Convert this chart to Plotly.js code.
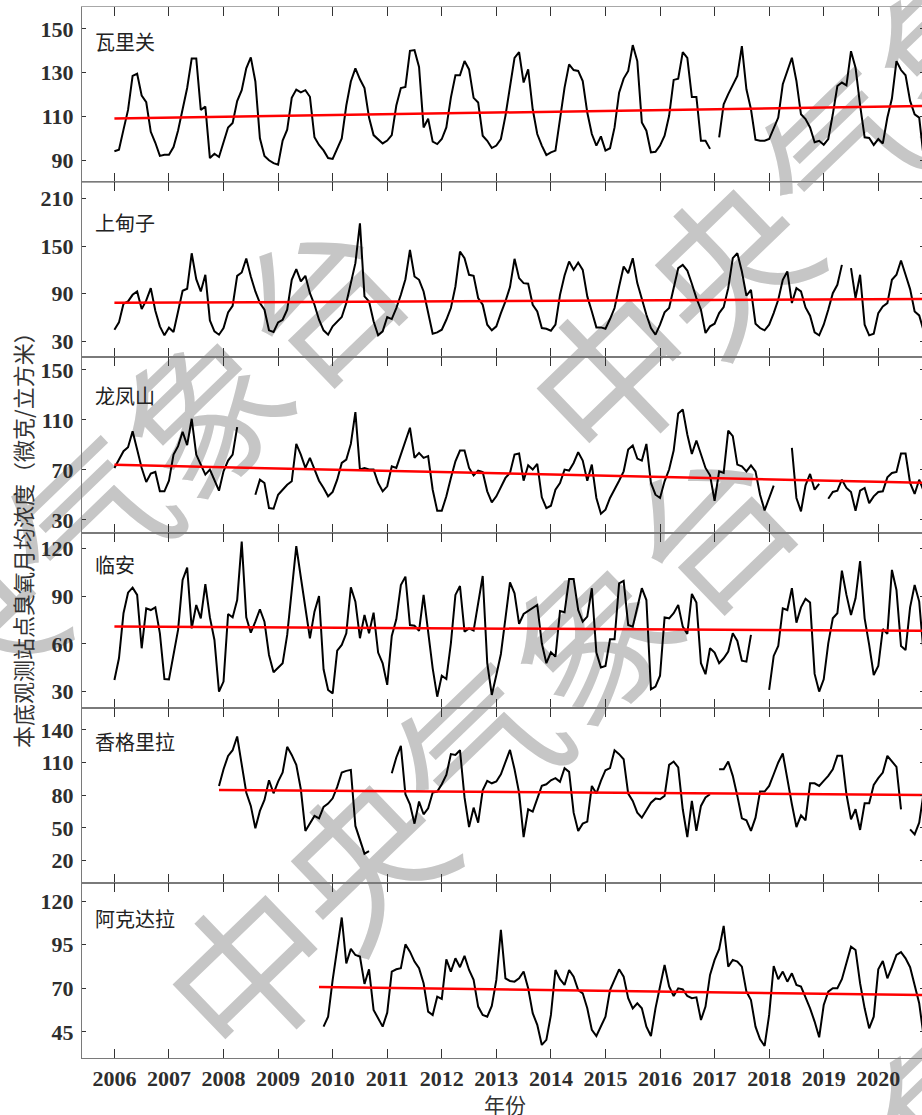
<!DOCTYPE html>
<html>
<head>
<meta charset="utf-8">
<script src="https://cdn.plot.ly/plotly-3.0.1.min.js"></script>
<style>
html,body{margin:0;padding:0;background:#fff;overflow:hidden;}
#chart{width:924px;height:1115px;}
</style>
</head>
<body>
<div id="chart"></div>
<script>
// ---------------- data ----------------
const startYear = 2006;                 // first month = Jan 2006
const yearTicks = [2006,2007,2008,2009,2010,2011,2012,2013,2014,2015,2016,2017,2018,2019,2020];
const stations = ['瓦里关','上甸子','龙凤山','临安','香格里拉','阿克达拉'];

// monthly mean ozone (µg/m³), Jan 2006 ... Nov 2020, null = missing
const waliguan = [
  94.1,94.8,104,113,128.5,129.5,119.5,116.5,103,98,92,92.5,
  92.5,96,103.6,113,123,136.5,136.5,113,114.5,91,93,91.5,
  98,105,107,117,122,132,137,126,100,92,90,88.7,
  88,99,104,118.5,122.3,121,122,119,100.5,97,94.5,91,
  90.6,95,100,115,126,132,127,123,109.5,101.5,99.4,97.7,
  99,101.5,115,123,123.5,140,140.3,132.6,105,109,98.5,97.4,
  99.7,105,118.6,128.8,128.8,135.3,131.5,118.5,116.4,101.2,98.9,95.6,
  96.7,99.7,110.3,124,136.8,139.4,125.5,131.5,113.3,102,96.7,92.4,
  93.6,94.4,108.8,123.2,133.8,131.2,130.8,126.2,111.8,102,96.7,100.9,
  94.4,95.5,105,120.9,127.3,130.8,142.6,135.3,107.3,103.5,93.6,93.9,
  96.7,101.2,110.3,126.7,127.3,139.4,136.8,118.9,118.9,98.9,98.9,95.2,
  null,100.5,115.6,120.2,124.7,128.5,142.1,122.4,113.3,99.4,98.9,98.9,
  99.7,104.2,109.5,124.7,130.8,136.8,126.2,111,108.8,105,98.2,98.9,
  97.1,99.7,111,123.9,125.5,124.2,139.8,132.3,115.2,100.5,100.2,97,
  99.7,97.7,109.5,118.2,135.3,131.2,128.8,117.1,111,109.5,91
];
const shangdianzi = [
  44.8,54,77.4,80.4,88.7,92.9,70.7,81.6,97.1,68.7,49,37.7,
  47.3,41.9,67.8,93.8,96.3,141,108.4,92.9,113.9,56.5,42.7,38.5,
  46.9,66.6,74.9,112.6,116.8,134.4,111.8,92.9,78.3,69.9,44,41.9,
  54,57.3,69.9,107.6,121,105.5,112.6,90.8,76.2,57.3,44,38.5,
  49,55.3,60.7,78.3,105.5,128.5,178.7,86.7,80.4,55.3,37.7,42.7,
  60.7,58.2,72,88.7,108.4,145.3,111.8,107.6,92.9,65.7,39.8,41.4,
  44.8,57.3,72,99.2,143.2,134.8,113.9,112.6,84.6,76.2,51.1,44,
  49,65.7,80.4,98.4,134,109.7,103.4,102.6,76.2,67.8,46.9,46,
  43.5,51.1,88.7,113,130.6,120.1,129.3,120.1,86.7,67.8,47.7,47.7,
  46,58.2,72,99.2,124.3,116,134.8,103.4,82.5,63.6,46.9,38.5,
  51.1,66.6,72,97.1,122.2,126.4,119.3,102.6,84.6,69.9,40.6,49,
  52.3,65.7,73.3,97.1,134.8,141.1,118.1,87.5,95,52.3,46.9,44,
  51.1,65.7,82.5,107.6,118.1,78.3,97.1,92.9,72.8,62.4,41.4,37.7,
  51.1,69.9,90.8,101.3,126.4,null,122.2,84.6,113.9,51.1,37.7,39.8,
  65.7,74.1,78.3,107.6,113.9,131.9,113.9,95.9,67.8,62.8,43
];
const longfengshan = [
  71.6,78,85,88.2,101,86.3,71.6,60.4,67.1,68.4,52.9,52.9,
  61.4,82.3,89,100.5,89.8,110.9,82.3,74.3,66.3,70.3,61.1,53.4,
  68.9,77.5,82.3,104.2,null,null,null,50.2,62.2,59.6,39.5,39,
  50.2,54.2,58.2,60.9,90.8,82.3,71.6,79.6,70.3,61.4,55.6,48.9,
  52.4,62.2,75.6,78.3,90.8,116.2,70.3,71.6,70.3,70.3,59.6,52.9,
  56.9,72.9,71.6,82.3,93.5,103.7,79.6,83.6,79.6,81,54.2,37.4,
  37.4,48.9,63.6,76.9,85.5,85.5,71.6,65.7,69.5,68.4,52.9,44.1,
  48.9,56.9,63.6,67.6,82.3,83.1,61.4,73.7,70.3,74.8,48.1,39.5,
  41.4,54.2,59.6,70.3,69.5,75.6,84.2,77.5,61.4,74.3,47.6,35,
  38.2,47.6,54.2,61.4,68.9,86.3,89.5,79.1,77.5,90.8,59.6,50.2,
  47.6,60.9,70.3,85.5,115.2,118.4,98.3,82.8,93.5,82.3,71.6,65.7,
  45.4,68.9,67.6,101.5,97,74.3,72.9,68.9,73.7,68.9,50.2,37.7,
  48.1,57.4,null,null,null,87.6,47.6,36.9,57.7,66.8,54.2,58.8,
  null,47,52.4,53.4,62.2,55.6,52.4,37.4,53.4,55.6,43.5,48.9,
  52.4,52.9,64.1,67.6,68.4,83.1,83.1,59.6,50.8,62.2,53
];
const linan = [
  37.4,51,79.3,92.2,95.4,90.8,57.3,82.4,81.3,83,66.7,38,
  37.8,53.1,68.8,100.2,107.9,69.8,84.5,76.1,97.5,76.7,62.5,30.1,
  36.4,78.8,76.7,87.6,124.3,76.7,67.1,74,81.8,74,53.1,42.2,
  45.3,47.9,65.7,92.9,121.5,101.9,83.4,63.6,80.3,90.1,44.1,31.1,
  29,55.8,59.4,66.7,95.6,86.6,63.6,78.2,66.7,79.7,54.6,47.9,
  34.3,65,75.5,97,102.3,71.9,71.5,68.2,90.8,67.7,44.7,26.9,
  40.1,38,60.4,90.8,96.4,67.7,69.8,68.4,85.5,102.7,47.9,28,
  40.5,53.7,76.1,98.7,91.8,72.6,78.8,80.7,82.8,84.5,60.4,47.9,
  54.8,52,80.7,79.9,100.8,100.8,81.3,74,77.2,95,54.6,45.3,
  46.2,62.9,62.9,98.1,99.6,71.9,70.9,82.4,95,87.6,31.5,33.2,
  40.1,76.7,76.1,79.3,84.5,70.9,66.3,91.4,86,47.9,41,57.3,
  54.6,47.9,51,55.2,66.7,61.9,49.5,48.9,65.7,null,null,null,
  31.1,52.5,58.7,82.4,81.3,95,73.4,83,88.3,86,41.2,30.1,
  37.8,60.4,76.1,79.3,106,90.8,78.2,88.7,112.1,76.1,59.4,40.5,
  46.2,69.4,66.3,106.5,93.9,58.7,56.2,83,97,86.6,53
];
const xianggelila = [
  null,null,null,null,null,null,null,null,null,null,null,null,
  null,null,null,null,null,null,null,null,null,null,null,88.6,
  103.9,116.2,121.4,134,108.5,82.5,70.2,49.6,65.6,75.7,93.8,81.8,
  92.6,100.9,124.5,117.1,107.9,85.5,47.2,53.9,61,58.8,69.3,72.3,
  77.2,87.7,100.9,102.4,103.3,51.8,38.6,26.3,28.7,null,null,null,
  null,100.3,114.7,125.4,80.9,71.7,53.9,74.2,62.5,68,82.5,83.4,
  90.1,98.7,117.8,117.1,121.4,78,50.8,68.6,54.8,84.6,93.2,91,
  92.6,99.3,111,121.7,103.9,82.5,41.6,67.1,65,77.9,88.6,90.1,
  93.8,95.7,92.3,104.9,101.5,64,47.2,53.9,55.8,88.6,81.5,93.2,
  103,104.9,121.4,117.8,113.1,81.5,74.8,64,59.4,66.2,73.2,76.9,
  76.3,79.4,107.9,111,105.5,67.1,41.6,74.8,47.2,70.2,77.9,80.9,
  null,103.9,103.9,111,97.8,79.4,58.8,57,47.2,59.4,83.4,83.4,
  88.6,99.3,110.1,118.4,93.8,71.7,50.8,61.6,57,91,91,88.6,
  93.2,97.8,103.9,116.2,116.2,80.9,57.9,67.1,48.1,72.6,72.6,89.5,
  95.7,100.9,116.2,111.6,106.1,67.1,null,48.7,44.1,54.8,83
];
const akedala = [
  null,null,null,null,null,null,null,null,null,null,null,null,
  null,null,null,null,null,null,null,null,null,null,null,null,
  null,null,null,null,null,null,null,null,null,null,null,null,
  null,null,null,null,null,null,null,null,null,null,48,53.7,
  74.8,93.9,110.6,84.3,92.6,89.1,88.2,72.5,80.9,57.6,52.8,48,
  56,79.6,80.9,81.5,95.2,91,85.3,81.5,72.9,56.6,54.7,65.2,
  63.9,86.6,79.6,87.2,82.1,88.6,80.5,74.8,59.5,54.7,53.7,59.9,
  74.8,103.5,75.7,74.2,73.8,75.7,79.6,70,55.7,49,37.5,40.4,
  54.7,80.5,75.2,71.9,80.5,76.7,69,67.1,58.5,46.1,42.6,48,
  53.7,69,74.8,80.9,76.7,64.3,58.5,61.4,58.5,48,42.6,58.5,
  71,83.4,71,65.6,70,69.4,65.6,64.3,64.8,51.8,59.5,77.7,
  86.3,92.4,105.8,82.4,86.3,85.3,82.4,68.1,63.3,48,40.7,36.9,
  54.7,82.8,75.2,79.6,73.8,78.6,71.9,71,64.8,58.5,50.9,41.9,
  60.4,68.1,70,70,75.2,85.3,93.9,92,72.9,58.5,47,53.7,
  80.9,85.7,75.7,82.1,89.1,90.7,87.2,82.1,71.9,61.4,42
];
const series = [waliguan, shangdianzi, longfengshan, linan, xianggelila, akedala];

// linear trend lines (start year, value at start, value at end Nov 2020)
const trendStartYear  = [2006.0, 2006.0, 2006.0, 2006.0, 2007.917, 2009.75];
const trendEndYear    = [2020.833, 2020.833, 2020.833, 2020.833, 2020.833, 2020.833];
const trendStartValue = [109.1, 78.6, 74.1, 70.9, 84.9, 70.7];
const trendEndValue   = [114.8, 83.3, 59.8, 68.3, 80.3, 66.1];

// y tick values per panel
const yTickVals = [[90,110,130,150],[30,90,150,210],[30,70,110,150],[30,60,90,120],[20,50,80,110,140],[45,70,95,120]];

const yTitle = '本底观测站点臭氧月均浓度（微克/立方米）';
const xTitle = '年份';
const watermark = '中央气象台';

// ---------------- chart ----------------
const yRanges = [[80,160],[10,230.5],[20,160],[20,130],[-0.5,160.5],[30,130.5]];
const labelOffsets = [35, 40.5, 38.5, 31.7, 34, 36];
const xRange = [2005.406, 2020.838];
const L = 82, T = 7, B = 57, W = 924, H = 1115;
const plotW = W - L, plotH = H - T - B;

const tickFont = {family:'Liberation Serif, Times New Roman, serif', size:22, color:'#2e2e2e', weight:'bold'};
const cjk = 'Noto Sans CJK SC, sans-serif';

const traces = [];
const layout = {
  width: W, height: H,
  margin: {l:L, r:0, t:T, b:B, pad:0},
  paper_bgcolor: '#ffffff',
  plot_bgcolor: 'rgba(0,0,0,0)',
  showlegend: false,
  annotations: []
};

series.forEach(function(vals, k){
  const sx = k === 0 ? '' : String(k+1);
  const xs = vals.map(function(_, i){ return startYear + i/12; });
  traces.push({
    x: xs, y: vals, type:'scatter', mode:'lines',
    xaxis:'x'+sx, yaxis:'y'+sx,
    line:{color:'#000000', width:2},
    connectgaps:false, hoverinfo:'skip'
  });
  traces.push({
    x: [trendStartYear[k], trendEndYear[k]],
    y: [trendStartValue[k], trendEndValue[k]],
    type:'scatter', mode:'lines',
    xaxis:'x'+sx, yaxis:'y'+sx,
    line:{color:'#ff0000', width:2.5}, hoverinfo:'skip'
  });
  layout['xaxis'+sx] = {
    domain:[0,1], range:xRange, anchor:'y'+sx,
    showline:true, linecolor: k === 0 ? '#a8a8a8' : '#7a7a7a', linewidth:1, mirror:'ticks',
    ticks:'inside', ticklen:9, tickwidth:1, tickcolor:'#333333',
    tickvals: yearTicks, ticktext: yearTicks.map(String),
    showticklabels: k === 5, tickfont: tickFont, ticklabelstandoff: 1,
    showgrid:false, zeroline:false, fixedrange:true
  };
  if (k > 0) layout['xaxis'+sx].matches = 'x';
  layout['yaxis'+sx] = {
    domain:[1-(k+1)/6, 1-k/6], range:yRanges[k], anchor:'x'+sx,
    showline:true, linecolor:'#7a7a7a', linewidth:1, mirror:'ticks',
    ticks:'inside', ticklen:4, tickwidth:1, tickcolor:'#333333',
    tickvals: yTickVals[k], ticktext: yTickVals[k].map(String),
    tickfont: tickFont, ticklabelstandoff: 3,
    showgrid:false, zeroline:false, fixedrange:true
  };
  layout.annotations.push({
    text: stations[k], xref:'paper', yref:'y'+sx+' domain',
    x: 11/plotW, y: 1 - labelOffsets[k]/(plotH/6),
    xanchor:'left', yanchor:'middle', showarrow:false,
    font:{family:cjk, size:20, color:'#222222'}
  });
});

// axis titles
layout.annotations.push({
  text: yTitle, textangle:-90, xref:'paper', yref:'paper',
  x: (22 - L)/plotW, y: (T + plotH - 535)/plotH, xanchor:'center', yanchor:'middle', showarrow:false,
  font:{family:cjk, size:22, color:'#333333'}
});
layout.annotations.push({
  text: xTitle, xref:'paper', yref:'paper',
  x: (505 - L)/plotW, y: (T + plotH - 1104)/plotH, xanchor:'center', yanchor:'middle', showarrow:false,
  font:{family:cjk, size:21, color:'#333333'}
});

// watermark text lines (centre of each line, in page pixels)
const wmCentres = [[474,743],[84,516],[838,147],[838,1203]];
wmCentres.forEach(function(c){
  layout.annotations.push({
    text: watermark, textangle:-44, xref:'paper', yref:'paper',
    x: (c[0]-L)/plotW, y: (T + plotH - c[1])/plotH,
    xanchor:'center', yanchor:'middle', showarrow:false,
    font:{family:cjk, size:160, color:'#c6c6c6'}
  });
});

Plotly.newPlot('chart', traces, layout, {staticPlot:true, displayModeBar:false}).then(function(gd){
  // put the watermark underneath the data lines
  const cart = gd.querySelector('.cartesianlayer');
  gd.querySelectorAll('.infolayer .annotation').forEach(function(g){
    if (g.textContent === watermark && cart) cart.parentNode.insertBefore(g, cart);
  });
});
</script>
</body>
</html>
